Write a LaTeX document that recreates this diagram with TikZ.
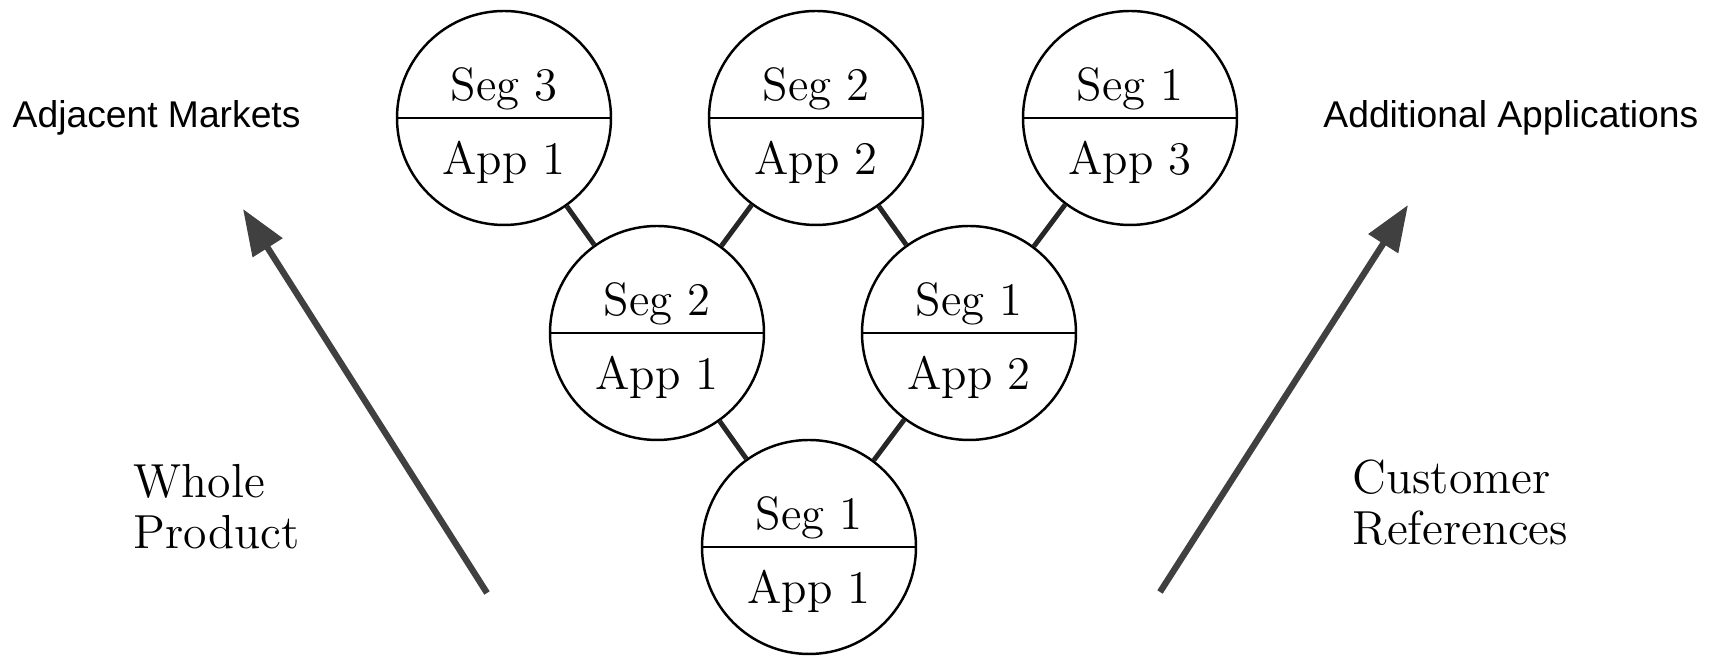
\documentclass[tikz,border=0pt]{standalone}
\usepackage{fontspec}
\newfontfamily\labelsans{Liberation Sans}
\usetikzlibrary{arrows.meta}

\tikzset{
	ring/.style={circle, draw, line width=0.7pt, minimum size=2.14cm, inner sep=0pt},
	divider/.style={line width=0.7pt},
	celltxt/.style={anchor=base, inner sep=0pt, font=\fontsize{13.3}{15}\selectfont},
	link/.style={line width=1.4pt, black!85},
	trend/.style={line width=1.8pt, black!75, -{Triangle[length=4.6mm, width=3.4mm]}},
	side/.style={inner sep=0pt, font=\labelsans\fontsize{10.6}{12}\selectfont},
	driver/.style={inner sep=0pt, align=left, anchor=north west, font=\fontsize{13.6}{14.5}\selectfont}
}

\begin{document}
\begin{tikzpicture}
	\useasboundingbox (0,0) rectangle (17.17,6.56);
	
	% segment / application circles
	\node[ring] (s1a1) at (8.09,1.09) {};
	\node[ring] (s2a1) at (6.57,3.23) {};
	\node[ring] (s1a2) at (9.69,3.23) {};
	\node[ring] (s3a1) at (5.04,5.38) {};
	\node[ring] (s2a2) at (8.16,5.38) {};
	\node[ring] (s1a3) at (11.30,5.38) {};
	
	\draw[divider] (s1a1.west) -- (s1a1.east);
	\draw[divider] (s2a1.west) -- (s2a1.east);
	\draw[divider] (s1a2.west) -- (s1a2.east);
	\draw[divider] (s3a1.west) -- (s3a1.east);
	\draw[divider] (s2a2.west) -- (s2a2.east);
	\draw[divider] (s1a3.west) -- (s1a3.east);
	
	\node[celltxt] (s1a1seg) at ([yshift=0.17cm]s1a1.center) {Seg 1};
	\node[celltxt] (s1a1app) at ([yshift=-0.57cm]s1a1.center) {App 1};
	\node[celltxt] (s2a1seg) at ([yshift=0.17cm]s2a1.center) {Seg 2};
	\node[celltxt] (s2a1app) at ([yshift=-0.57cm]s2a1.center) {App 1};
	\node[celltxt] (s1a2seg) at ([yshift=0.17cm]s1a2.center) {Seg 1};
	\node[celltxt] (s1a2app) at ([yshift=-0.57cm]s1a2.center) {App 2};
	\node[celltxt] (s3a1seg) at ([yshift=0.17cm]s3a1.center) {Seg 3};
	\node[celltxt] (s3a1app) at ([yshift=-0.57cm]s3a1.center) {App 1};
	\node[celltxt] (s2a2seg) at ([yshift=0.17cm]s2a2.center) {Seg 2};
	\node[celltxt] (s2a2app) at ([yshift=-0.57cm]s2a2.center) {App 2};
	\node[celltxt] (s1a3seg) at ([yshift=0.17cm]s1a3.center) {Seg 1};
	\node[celltxt] (s1a3app) at ([yshift=-0.57cm]s1a3.center) {App 3};
	
	% links
	\draw[link] (s1a1) -- (s2a1);
	\draw[link] (s1a1) -- (s1a2);
	\draw[link] (s2a1) -- (s3a1);
	\draw[link] (s2a1) -- (s2a2);
	\draw[link] (s1a2) -- (s2a2);
	\draw[link] (s1a2) -- (s1a3);
	
	% side arrows
	\coordinate (wpTail) at (4.87,0.63);
	\coordinate (wpTip) at (2.43,4.47);
	\coordinate (crTail) at (11.60,0.64);
	\coordinate (crTip) at (14.08,4.51);
	\draw[trend] (wpTail) -- (wpTip);
	\draw[trend] (crTail) -- (crTip);
	
	% labels
	\node[side, anchor=base west] (adjMkt) at (0.12,5.28) {Adjacent Markets};
	\node[side, anchor=base east] (addApp) at (16.99,5.28) {Additional Applications};
	\node[driver] (wholeProd) at (1.33,1.92) {Whole\\Product};
	\node[driver] (custRef) at (13.52,1.97) {Customer\\References};
	
\end{tikzpicture}
\end{document}
